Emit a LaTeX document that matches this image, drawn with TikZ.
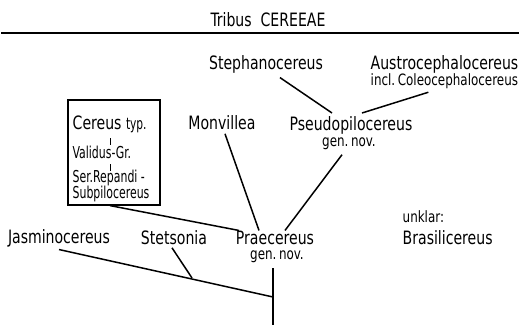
\documentclass[tikz,border=0pt]{standalone}
\usepackage{fontspec}
\setmainfont{DejaVu Sans Condensed}[FakeStretch=0.85]
\newfontfamily\narrowfont{DejaVu Sans Condensed}[FakeStretch=0.74]
\begin{document}
\begin{tikzpicture}[x=0.5pt, y=-0.5pt, line width=0.7pt,
  every node/.style={inner sep=0pt},
  big/.style={font=\fontsize{9.2}{10}\selectfont},
  mid/.style={font=\narrowfont\fontsize{8.2}{9}\selectfont},
  sml/.style={font=\fontsize{7.8}{8}\selectfont},
  branch/.style={line width=0.75pt}]
	\useasboundingbox (0,0) rectangle (521,327);
	% title and rule
	\node[big] (title) at (268,20) {Tribus\ \ CEREEAE};
	\coordinate (ruleL) at (1,33);
	\coordinate (ruleR) at (519,33);
	\draw (ruleL) -- (ruleR);
	% upper taxa
	\node[big] (steph) at (266,64) {Stephanocereus};
	\node[big, anchor=west] (austro) at (370,64) {Austrocephalocereus};
	\node[sml, anchor=west] (incl) at (370,81) {incl.\,Coleocephalocereus};
	\node[big] (pseudo) at (351,125) {Pseudopilocereus};
	\node[sml] (pgen) at (349,144) {gen.\,nov.};
	\node[big] (monv) at (222,123) {Monvillea};
	% Cereus box
	\node[draw, line width=0.6pt, minimum width=46pt, minimum height=52.5pt] (box) at (114,152.5) {};
	\node[big, anchor=west] (cer) at (72,124) {Cereus {\narrowfont\fontsize{8}{8}\selectfont typ.}};
	\node[mid, anchor=west] (val) at (72,152) {Validus-Gr.};
	\node[mid, anchor=west] (ser) at (72,178) {Ser.Repandi -};
	\node[mid, anchor=west] (sub) at (72,194) {Subpilocereus};
	\draw[line width=0.4pt] (110,138) -- (110,145);
	\draw[line width=0.4pt] (110,164) -- (110,171);
	% lower taxa
	\node[big] (prae) at (275,238) {Praecereus};
	\node[sml] (praegen) at (277,257) {gen.\,nov.};
	\node[big] (jasmin) at (59,238) {Jasminocereus};
	\node[big] (stets) at (174,238) {Stetsonia};
	\node[sml, anchor=west] (unklar) at (402,217) {unklar:};
	\node[big, anchor=west] (brasil) at (402,238) {Brasilicereus};
	% branch points
	\coordinate (pTop) at (332,113);
	\coordinate (pTopR) at (362,113);
	\coordinate (rootTop) at (273,268);
	\coordinate (root) at (273,325);
	\coordinate (jasJoin) at (273,297);
	\coordinate (stJoin) at (192,278);
	% connectors
	\draw[branch] (steph.south) ++(14,4) -- (pTop);
	\draw[branch] (incl.south) ++(-16,3) -- (pTopR);
	\draw[branch] (pgen.south) ++(-7,4) -- ([xshift=5]prae.north);
	\draw[branch] (monv.south) ++(3,3) -- ([xshift=-8]prae.north);
	\draw[branch] (box.south) ++(-4,0) -- ([xshift=-18]prae.north);
	\draw[branch] (rootTop) -- (root);
	\draw[branch] (jasmin.south) ++(0,2) -- (jasJoin);
	\draw[branch] (stets.south) ++(-2,2) -- (stJoin);
\end{tikzpicture}
\end{document}
